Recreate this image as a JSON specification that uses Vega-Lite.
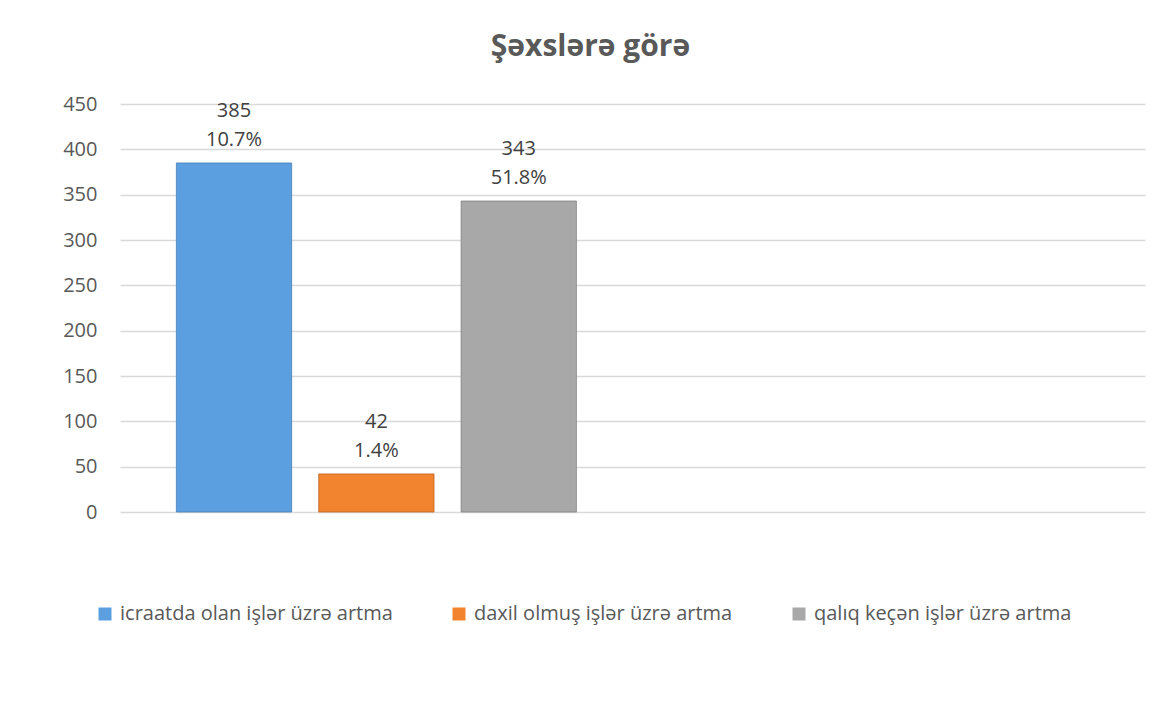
{
  "$schema": "https://vega.github.io/schema/vega-lite/v6.json",
  "autosize": {"type": "none"},
  "width": 1025,
  "height": 408,
  "padding": {"left": 120, "top": 104, "right": 29, "bottom": 192},
  "background": "white",
  "config": {
    "font": "Open Sans",
    "view": {"stroke": null}
  },
  "title": {
    "text": "Şəxslərə görə",
    "fontSize": 30,
    "fontWeight": "bold",
    "color": "#595959",
    "font": "Open Sans",
    "anchor": "middle",
    "frame": "group",
    "dx": -42,
    "offset": 32
  },
  "data": {
    "values": [
      {"cat": "g1", "series": "icraatda olan işlər üzrə artma", "value": 385, "pct": "10.7%"},
      {"cat": "g1", "series": "daxil olmuş işlər üzrə artma", "value": 42, "pct": "1.4%"},
      {"cat": "g1", "series": "qalıq keçən işlər üzrə artma", "value": 343, "pct": "51.8%"}
    ]
  },
  "encoding": {
    "x": {
      "field": "cat",
      "type": "nominal",
      "scale": {"domain": ["g1", "g2"], "paddingInner": 0.219, "paddingOuter": 0.11},
      "axis": null
    },
    "xOffset": {
      "field": "series",
      "type": "nominal",
      "sort": ["icraatda olan işlər üzrə artma", "daxil olmuş işlər üzrə artma", "qalıq keçən işlər üzrə artma"],
      "scale": {"paddingInner": 0.19, "paddingOuter": 0}
    },
    "y": {
      "field": "value",
      "type": "quantitative",
      "scale": {"domain": [0, 450], "nice": false},
      "axis": {
        "values": [0, 50, 100, 150, 200, 250, 300, 350, 400, 450],
        "title": null,
        "domain": false,
        "ticks": false,
        "labelFontSize": 20,
        "labelColor": "#595959",
        "labelPadding": 23,
        "gridColor": "#d9d9d9",
        "gridWidth": 1.3,
        "labelFont": "Open Sans"
      }
    }
  },
  "layer": [
    {
      "mark": {"type": "bar", "strokeWidth": 1, "strokeOpacity": 0.7},
      "encoding": {
        "color": {
          "field": "series",
          "type": "nominal",
          "sort": ["icraatda olan işlər üzrə artma", "daxil olmuş işlər üzrə artma", "qalıq keçən işlər üzrə artma"],
          "scale": {
            "domain": ["icraatda olan işlər üzrə artma", "daxil olmuş işlər üzrə artma", "qalıq keçən işlər üzrə artma"],
            "range": ["#5b9fe0", "#f2842f", "#a8a8a8"]
          },
          "legend": {
            "title": null,
            "orient": "none",
            "direction": "horizontal",
            "legendX": -25,
            "legendY": 500,
            "symbolType": "square",
            "symbolSize": 169,
            "symbolStrokeWidth": 0,
            "symbolOpacity": 1,
            "labelFontSize": 20,
            "labelColor": "#595959",
            "labelFont": "Open Sans",
            "labelOffset": 5,
            "columnPadding": 56,
            "labelLimit": 400
          }
        },
        "stroke": {
          "field": "series",
          "type": "nominal",
          "scale": {
            "domain": ["icraatda olan işlər üzrə artma", "daxil olmuş işlər üzrə artma", "qalıq keçən işlər üzrə artma"],
            "range": ["#3f78b0", "#b85a17", "#7a7a7a"]
          },
          "legend": null
        }
      }
    },
    {
      "mark": {"type": "text", "baseline": "middle", "dy": -52, "fontSize": 20, "color": "#404040", "font": "Open Sans"},
      "encoding": {"text": {"field": "value", "type": "quantitative"}}
    },
    {
      "mark": {"type": "text", "baseline": "middle", "dy": -23, "fontSize": 20, "color": "#404040", "font": "Open Sans"},
      "encoding": {"text": {"field": "pct", "type": "nominal"}}
    }
  ]
}
